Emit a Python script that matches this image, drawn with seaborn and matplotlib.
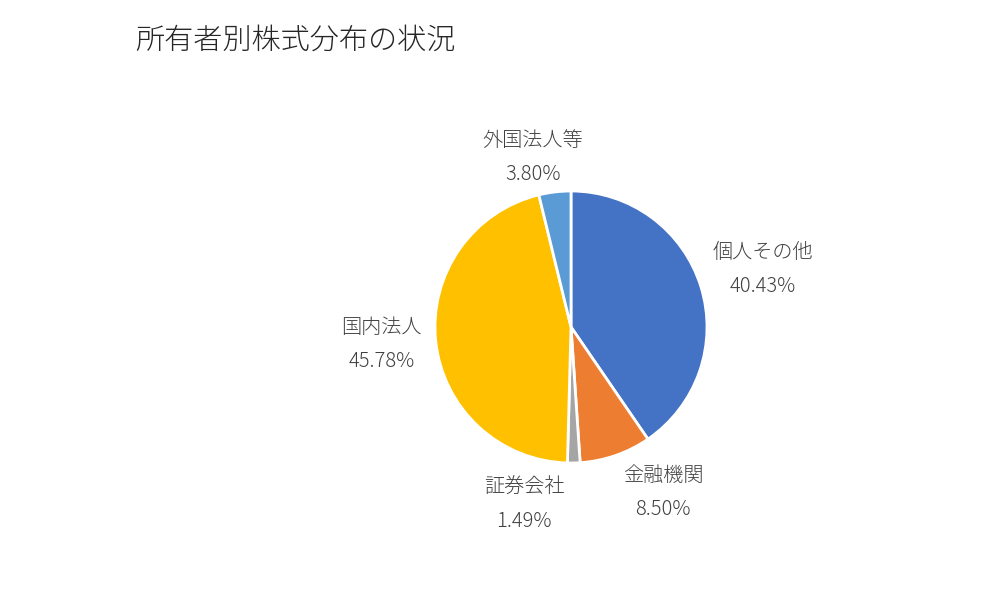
import numpy as np
import matplotlib
matplotlib.use('Agg')
import matplotlib.pyplot as plt
import seaborn as sns

# 所有者別株式分布
categories = ['個人その他', '金融機関', '証券会社', '国内法人', '外国法人等']
shares = [40.43, 8.50, 1.49, 45.78, 3.80]
colors = ['#4472C4', '#ED7D31', '#A5A5A5', '#FFC000', '#5B9BD5']

sns.set_style('white')
plt.rcParams['font.family'] = ['Noto Sans CJK JP', 'DejaVu Sans']

W, H = 1004, 591
fig = plt.figure(figsize=(W / 100, H / 100), dpi=100)

# pie centre (571, 327) px, radius 136 px
cx, cy, r = 571, 327, 136
xl, yl = 2.5, 1.9
ax = fig.add_axes([(cx - xl * r) / W, (H - cy - yl * r) / H, 2 * xl * r / W, 2 * yl * r / H])

wedges, _ = ax.pie(shares, colors=colors, startangle=90, counterclock=False,
                   wedgeprops=dict(edgecolor='white', linewidth=2))
ax.set_xlim(-xl, xl)
ax.set_ylim(-yl, yl)
ax.set_aspect('equal')
ax.axis('off')

# label placement: (distance, angle shift) relative to wedge middle
label_pos = [(1.47, -0.6), (1.39, 9.9), (1.35, -16.0), (1.40, -0.7), (1.28, 5.8)]
for w, name, val, (d, shift) in zip(wedges, categories, shares, label_pos):
    ang = np.deg2rad((w.theta1 + w.theta2) / 2 + shift)
    ax.text(d * np.cos(ang), d * np.sin(ang), f'{name}\n{val:.2f}%',
            ha='center', va='center', fontsize=14.5, color='#404040',
            linespacing=1.8, fontweight='light')

fig.text(135 / W, 1 - 40 / H, '所有者別株式分布の状況', fontsize=21, color='#262626',
         ha='left', va='center', fontweight='light')

fig.savefig('out.png', dpi=100)
